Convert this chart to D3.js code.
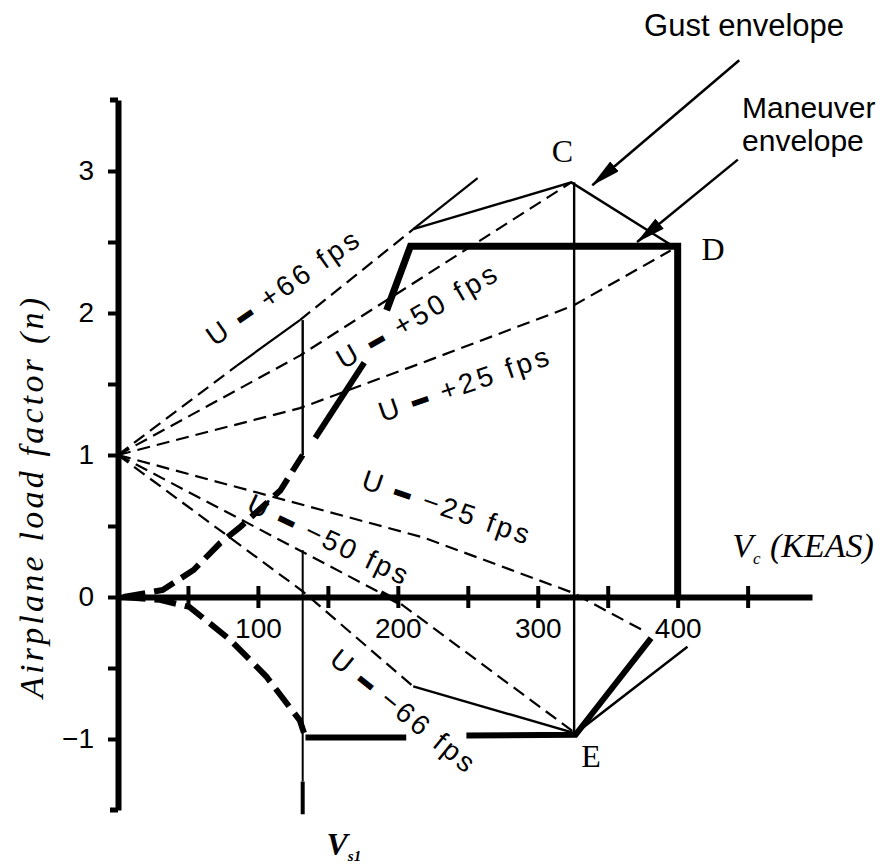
<!DOCTYPE html>
<html>
<head>
<meta charset="utf-8">
<script src="https://cdn.jsdelivr.net/npm/d3@7"></script>
<style>
  body { margin: 0; background: #fff; }
  svg { display: block; }
</style>
</head>
<body>
<script>
// points, as [V (KEAS), n]
const stallPos = [[4, 0], [32, 0.05], [54, 0.19], [73, 0.38], [87, 0.49], [116, 0.75], [132, 1.0]];
const stallPosUpper = [[141, 1.12], [176, 1.65]];
const maneuverPos = [[192, 2.02], [209, 2.47], [400, 2.47], [400, 0]];
const stallNeg = [[4, 0], [30, -0.02], [51, -0.07], [80, -0.30], [106, -0.56], [130, -0.87], [134, -0.99]];
const maneuverNegA = [[134, -0.99], [206, -0.99]];
const maneuverNegB = [[249, -0.975], [327, -0.97], [381, -0.29]];

const gust66Dashed = [[[0, 1], [85, 1.63]], [[130, 1.95], [211, 2.59]]];
const gust66Solid = [[[85, 1.63], [130, 1.95]], [[211, 2.59], [257, 2.95]]];
const gust50 = [[0, 1], [130, 1.70], [324, 2.92]];
const gust25 = [[0, 1], [130, 1.33], [223, 1.67], [325, 2.05], [395, 2.44]];
const gustM25 = [[0, 1], [218, 0.42], [325, 0.03], [378, -0.25]];
const gustM50 = [[0, 1], [201, -0.04], [327, -0.96]];
const gustM50End = [[188, 0.03], [201, -0.04]];
const gustM66 = [[0, 1], [132, 0.04], [211, -0.63]];

const gustEnvPos = [[211, 2.59], [324, 2.92], [395, 2.48]];
const gustEnvNeg = [[211, -0.63], [327, -0.96], [407, -0.35]];
const lineC = [[326, 2.92], [326, -0.97]];
const vs1Upper = [[132, 1.95], [132, 1.0]];
const vs1Lower = [[132, 0.33], [132, -1.30]];
const vs1Foot = [[132, -1.30], [132, -1.53]];

const gustSpeeds = ['+66', '+50', '+25', '\u221225', '\u221250', '\u221266'];
const xTicks = [50, 100, 150, 200, 250, 300, 350, 400, 450];
const xLabels = [100, 200, 300, 400];
const yTicks = [-1, -0.5, 0, 0.5, 1, 1.5, 2, 2.5, 3];

// where the rotated gust labels sit: start of baseline (data units), angle, length in px
const labelPlacement = [
  {at: [69, 1.76], angle: -35, len: 179},
  {at: [161, 1.60], angle: -30, len: 180},
  {at: [189, 1.23], angle: -19, len: 178},
  {at: [173, 0.77], angle: 19, len: 175},
  {at: [91, 0.61], angle: 25.5, len: 174},
  {at: [150, -0.46], angle: 39, len: 177}
];

const width = 886, height = 867;
const sans = '"Liberation Sans", Arial, sans-serif';
const serif = '"Liberation Serif", "Times New Roman", serif';

const x = d3.scaleLinear().domain([0, 496]).range([118, 812]);
const y = d3.scaleLinear().domain([-1.5, 3.5]).range([810, 100]);

const svg = d3.select('body').append('svg')
  .attr('width', width)
  .attr('height', height);

const line = d3.line().x(d => x(d[0])).y(d => y(d[1]));

function path(pts, w, dash) {
  svg.append('path')
    .attr('d', line(pts))
    .attr('fill', 'none')
    .attr('stroke', '#000')
    .attr('stroke-width', w)
    .attr('stroke-dasharray', dash || null)
    .attr('stroke-linejoin', 'miter');
}

// thin gust lines
const thinDash = '13,7';
gust66Dashed.forEach(s => path(s, 2.2, thinDash));
gust66Solid.forEach(s => path(s, 2.2));
path(gust50, 2.2, thinDash);
path(gust25, 2.2, thinDash);
path(gustM25, 2.2, thinDash);
path(gustM50, 2.2, thinDash);
path(gustM66, 2.2, thinDash);
path(gustM50End, 5);

path(gustEnvPos, 2.4);
path(gustEnvNeg, 2.4);
path(lineC, 2.4);
path(vs1Upper, 2.4);
path(vs1Lower, 2);
path(vs1Foot, 4);

// maneuver envelope
path(stallPos, 6, '22,9');
path(stallPosUpper, 6);
path(stallNeg, 6, '22,9');
path(maneuverPos, 7);
path(maneuverNegA, 6);
path(maneuverNegB, 6);

// axes
const yAxis = d3.axisLeft(y)
  .tickValues(yTicks)
  .tickSize(10)
  .tickSizeOuter(0)
  .tickPadding(14)
  .tickFormat(d => Number.isInteger(d) ? d3.format('')(d) : '');

svg.append('g')
  .attr('transform', `translate(${x(0)},0)`)
  .call(yAxis)
  .call(g => g.select('.domain').attr('stroke-width', 6))
  .call(g => g.selectAll('.tick line').attr('stroke-width', 4).attr('x1', 2))
  .call(g => g.selectAll('.tick text')
    .attr('font-family', sans).attr('font-size', 28).attr('fill', '#000'));

svg.append('g')
  .selectAll('line')
  .data(y.domain())
  .join('line')
  .attr('x1', x(0) - 8).attr('x2', x(0))
  .attr('y1', d => y(d)).attr('y2', d => y(d))
  .attr('stroke', '#000').attr('stroke-width', 5);

const xAxis = d3.axisBottom(x)
  .tickValues(xTicks)
  .tickSize(11)
  .tickSizeOuter(0)
  .tickFormat(d => xLabels.includes(d) ? d : '');

svg.append('g')
  .attr('transform', `translate(0,${y(0)})`)
  .call(xAxis)
  .call(g => g.select('.domain').attr('stroke-width', 6))
  .call(g => g.selectAll('.tick line').attr('stroke-width', 4).attr('y1', -11))
  .call(g => g.selectAll('.tick text')
    .attr('font-family', sans).attr('font-size', 28).attr('fill', '#000')
    .attr('y', 41).attr('dy', 0));

// gust labels
labelPlacement.forEach((p, i) => {
  const t = svg.append('text')
    .attr('transform', `translate(${x(p.at[0])},${y(p.at[1])}) rotate(${p.angle})`)
    .attr('font-family', sans)
    .attr('font-size', 28)
    .attr('textLength', p.len)
    .attr('lengthAdjust', 'spacing');
  t.append('tspan').text('U ');
  t.append('tspan').attr('font-weight', 'bold')
    .attr('stroke', '#000').attr('stroke-width', 3).text('\u2013');
  t.append('tspan').text(' ' + gustSpeeds[i] + ' fps');
});

// point letters
[['C', 310, 3.06], ['D', 417, 2.37], ['E', 331, -1.20]].forEach(([s, v, n]) => {
  svg.append('text')
    .attr('x', x(v)).attr('y', y(n))
    .attr('font-family', serif).attr('font-size', 32)
    .text(s);
});

// envelope call-outs
svg.append('defs').append('marker')
  .attr('id', 'head')
  .attr('markerUnits', 'userSpaceOnUse')
  .attr('markerWidth', 30).attr('markerHeight', 13)
  .attr('refX', 29).attr('refY', 6.5)
  .attr('orient', 'auto')
  .append('path').attr('d', 'M0,0L30,6.5L0,13Z').attr('fill', '#000');

[[[444, 3.78], [339, 2.90]], [[443, 3.08], [371, 2.50]]].forEach(a => {
  svg.append('line')
    .attr('x1', x(a[0][0])).attr('y1', y(a[0][1]))
    .attr('x2', x(a[1][0])).attr('y2', y(a[1][1]))
    .attr('stroke', '#000').attr('stroke-width', 2.5)
    .attr('marker-end', 'url(#head)');
});

svg.append('text').attr('x', x(376)).attr('y', y(3.95))
  .attr('font-family', sans).attr('font-size', 31).text('Gust envelope');
svg.append('text').attr('x', x(446)).attr('y', y(3.37))
  .attr('font-family', sans).attr('font-size', 30).text('Maneuver');
svg.append('text').attr('x', x(446)).attr('y', y(3.14))
  .attr('font-family', sans).attr('font-size', 30).text('envelope');

// axis titles
svg.append('text')
  .attr('transform', 'translate(43,498) rotate(-90)')
  .attr('text-anchor', 'middle')
  .attr('font-family', serif).attr('font-style', 'italic').attr('font-size', 34)
  .attr('textLength', 400).attr('lengthAdjust', 'spacing')
  .text('Airplane load factor (n)');

const vc = svg.append('text').attr('x', x(439)).attr('y', y(0.28))
  .attr('font-family', serif).attr('font-style', 'italic').attr('font-size', 34);
vc.append('tspan').text('V');
vc.append('tspan').attr('font-size', 17).attr('dy', 7).text('c');
svg.append('text').attr('x', x(466)).attr('y', y(0.28))
  .attr('font-family', serif).attr('font-style', 'italic').attr('font-size', 34)
  .text('(KEAS)');

const vs = svg.append('text').attr('x', x(149)).attr('y', y(-1.82))
  .attr('font-family', serif).attr('font-style', 'italic').attr('font-weight', 'bold')
  .attr('font-size', 32);
vs.append('tspan').text('V');
vs.append('tspan').attr('font-size', 15).attr('dy', 6).text('s1');
</script>
</body>
</html>
